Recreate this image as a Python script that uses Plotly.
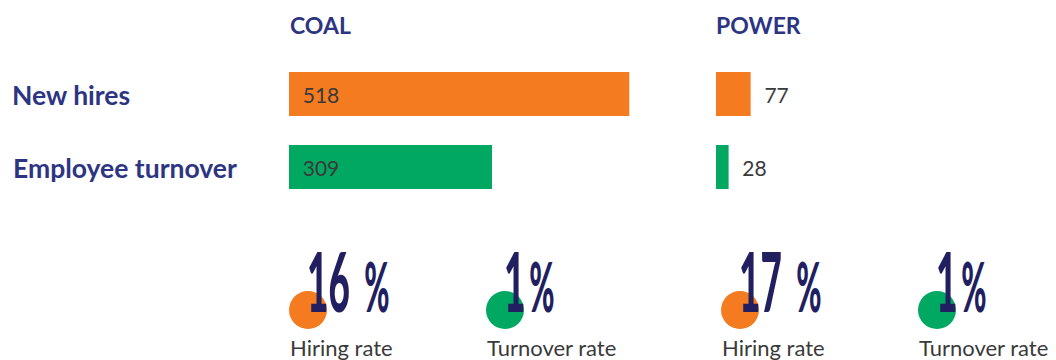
import plotly.graph_objects as go

# ---- data ----
categories = ["New hires", "Employee turnover"]
coal_values = [518, 309]
power_values = [77, 28]
segments = ["COAL", "POWER"]
rate_values = [16, 1, 17, 1]          # coal hiring, coal turnover, power hiring, power turnover
rate_labels = ["Hiring rate", "Turnover rate", "Hiring rate", "Turnover rate"]

# ---- style ----
W, H = 1056, 360
ORANGE = "#f47b20"
GREEN = "#00a862"
NAVY = "#2d3583"
DEEP_NAVY = "#211f5f"
GREY = "#3a3a3a"
bar_colors = [ORANGE, GREEN]
rate_colors = [ORANGE, GREEN, ORANGE, GREEN]
SANS = "Lato, 'Open Sans', sans-serif"


def px(x):
    return x / W


def py(y):
    return 1 - y / H


NBSP = "\u00a0" * 2

fig = go.Figure()

fig.add_trace(go.Bar(
    y=categories, x=coal_values, orientation="h",
    marker=dict(color=bar_colors, line=dict(width=0)), width=0.6,
    xaxis="x", yaxis="y",
    texttemplate=NBSP + "%{x}", textposition="inside", insidetextanchor="start",
    textfont=dict(family=SANS, size=21, color=GREY),
    constraintext="none", hoverinfo="skip",
))
fig.add_trace(go.Bar(
    y=categories, x=power_values, orientation="h",
    marker=dict(color=bar_colors, line=dict(width=0)), width=0.6,
    xaxis="x2", yaxis="y",
    texttemplate=NBSP + "%{x}", textposition="outside",
    textfont=dict(family=SANS, size=21, color=GREY),
    constraintext="none", cliponaxis=False, hoverinfo="skip",
))

axis_off = dict(showgrid=False, zeroline=False, showticklabels=False, showline=False, ticks="")

annotations = []
# Panel headings
for name, x in zip(segments, [288, 714]):
    annotations.append(dict(text="<b>%s</b>" % name, x=px(x), y=py(25), xref="paper", yref="paper",
                            xanchor="left", yanchor="middle", showarrow=False,
                            font=dict(family=SANS, size=23, color=NAVY)))
# Row labels
for cat, x, y in zip(categories, [10, 11], [95, 168]):
    annotations.append(dict(text="<b>%s</b>" % cat, x=px(x), y=py(y), xref="paper", yref="paper",
                            xanchor="left", yanchor="middle", showarrow=False,
                            font=dict(family=SANS, size=26.5, color=NAVY)))

# Rate badges: circle, big condensed figure, caption
centers = [308, 505, 740, 937]
shapes = []
for val, lab, col, cx in zip(rate_values, rate_labels, rate_colors, centers):
    r = 19
    shapes.append(dict(type="circle", xref="paper", yref="paper",
                       x0=px(cx - r), x1=px(cx + r), y0=py(310 + r), y1=py(310 - r),
                       fillcolor=col, line=dict(width=0), layer="below"))
    gap = "\u00a0\u00a0" if val >= 10 else "\u2009"
    annotations.append(dict(text="%d<span style='font-size:68px'>%s%%</span>" % (val, gap),
                            x=px(cx - 3), y=py(331), xref="paper", yref="paper",
                            xanchor="left", yanchor="bottom", align="left", showarrow=False,
                            font=dict(family=SANS, size=82, color=DEEP_NAVY, weight=900)))
    annotations.append(dict(text=lab, x=px(cx - 20), y=py(347), xref="paper", yref="paper",
                            xanchor="left", yanchor="middle", showarrow=False,
                            font=dict(family=SANS, size=22, color=GREY)))

fig.update_layout(
    width=W, height=H, margin=dict(l=0, r=0, t=0, b=0),
    paper_bgcolor="white", plot_bgcolor="white",
    showlegend=False, bargap=0.4,
    xaxis=dict(domain=[px(289), px(649)], range=[0, 548], **axis_off),
    xaxis2=dict(domain=[px(716), px(1056)], range=[0, 755], anchor="y", **axis_off),
    yaxis=dict(domain=[py(203.5), py(57.5)], range=[1.5, -0.5], type="category", **axis_off),
    annotations=annotations, shapes=shapes,
)

# Narrow the big percentage figures horizontally (condensed display style).
squeeze_js = """
var gd = document.getElementById('{plot_id}');
function squeezeRates() {
  gd.querySelectorAll('text.annotation-text').forEach(function (t) {
    var s = t.getAttribute('data-unformatted') || '';
    if (s.indexOf('%') < 0) return;
    var x = parseFloat(t.getAttribute('x')) || 0;
    t.setAttribute('transform', 'translate(' + x + ',0) scale(0.45,1) translate(' + (-x) + ',0)');
  });
}
squeezeRates();
gd.on('plotly_afterplot', squeezeRates);
"""

fig.write_html("out.html", post_script=squeeze_js)
